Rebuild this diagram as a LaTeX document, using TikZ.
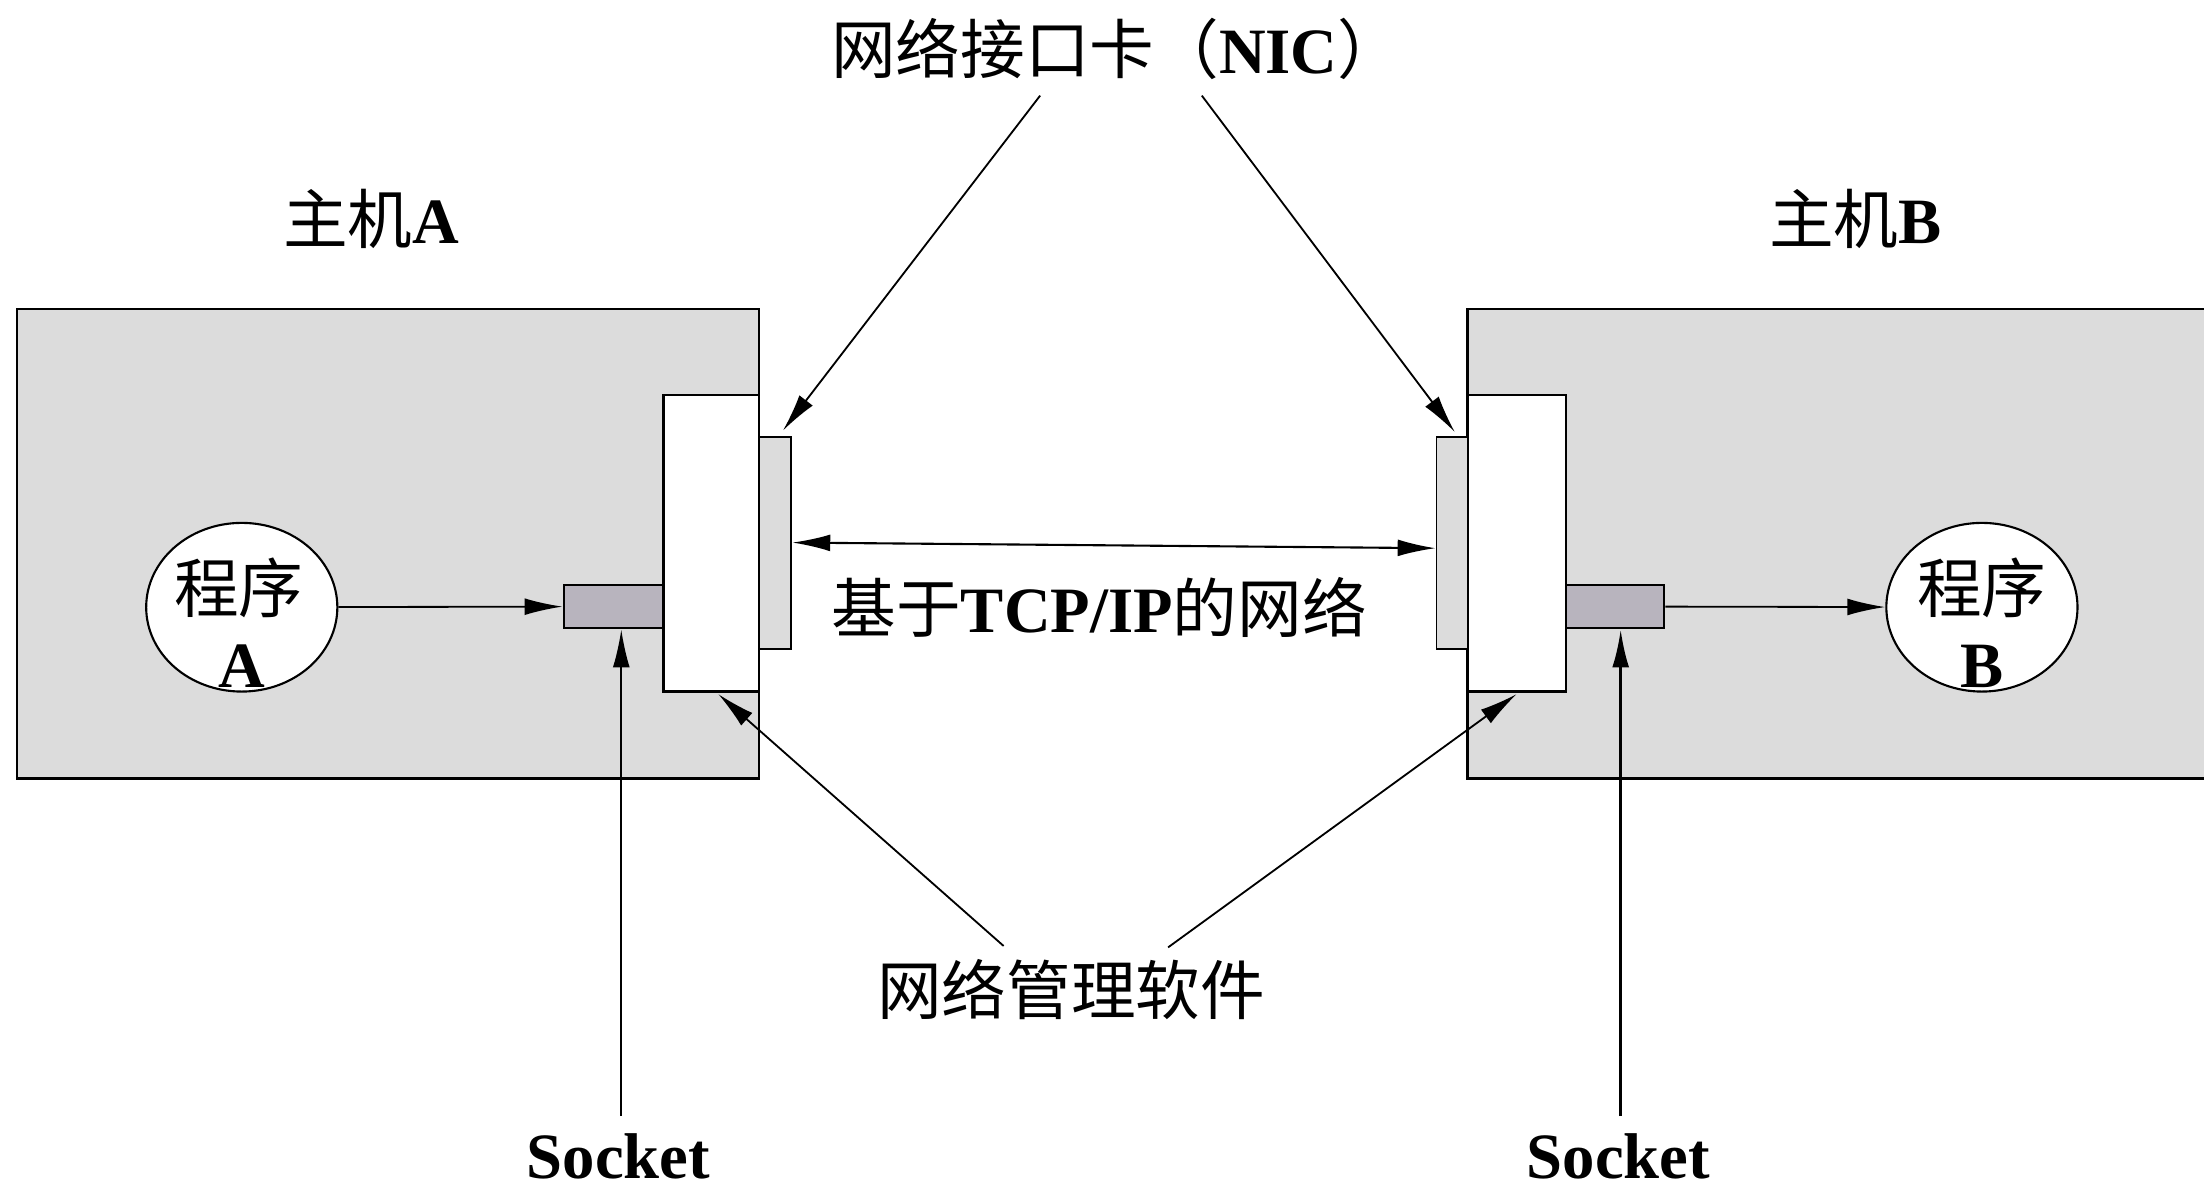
\documentclass[tikz,border=0pt]{standalone}
\usepackage{fontspec}
\setmainfont{Liberation Serif}
\newfontfamily\cjk{Noto Sans CJK SC}
\usetikzlibrary{arrows.meta,shapes.geometric}
\definecolor{hostgray}{HTML}{DCDCDC}
\definecolor{sockfill}{HTML}{B8B4BE}
\begin{document}
\begin{tikzpicture}[x=1pt,y=-1pt,
  hostbox/.style={draw, line width=1.8pt, fill=hostgray, minimum width=#1, minimum height=334pt, inner sep=0pt},
  nicbox/.style={draw, line width=1.6pt, fill=white, minimum width=#1, minimum height=211pt, inner sep=0pt},
  stripbox/.style={draw, line width=1.3pt, fill=hostgray, minimum width=#1, minimum height=151pt, inner sep=0pt},
  sockbox/.style={draw, line width=1.6pt, fill=sockfill, minimum width=#1, minimum height=31pt, inner sep=0pt},
  progell/.style={draw, ellipse, line width=1.5pt, fill=white, minimum width=136pt, minimum height=120pt, inner sep=0pt},
  lbl/.style={font=\fontsize{46pt}{50pt}\selectfont, inner sep=0pt},
  arr/.style={-{Latex[length=27pt,width=12pt]}, line width=1.3pt}
]
\useasboundingbox (0,0) rectangle (1568,850);
\clip (0,0) rectangle (1568,850);

% hosts
\node[hostbox=528pt] (hostA) at (276,387) {};
\node[hostbox=540pt] (hostB) at (1314,387) {};

% NIC parts
\node[nicbox=68pt] (nicA) at (506,386.5) {};
\node[stripbox=23pt] (stripA) at (551.5,386.5) {};
\node[sockbox=71pt] (sockA) at (436.5,431.5) {};

\node[nicbox=70pt] (nicB) at (1079,386.5) {};
\node[stripbox=22pt] (stripB) at (1033,386.5) {};
\node[sockbox=70pt] (sockB) at (1149,431.5) {};

% programs
\node[progell] (progA) at (172,432) {};
\node[progell] (progB) at (1410,432) {};
\node[lbl] (progAt) at (170,418) {\cjk 程序};
\node[lbl] (progAl) at (172,474) {\textbf{A}};
\node[lbl] (progBt) at (1410,418) {\cjk 程序};
\node[lbl] (progBl) at (1410,474) {\textbf{B}};

% labels
\node[lbl] (hostAlbl) at (264,156) {{\cjk 主机}\textbf{A}};
\node[lbl] (hostBlbl) at (1320,156) {{\cjk 主机}\textbf{B}};
\node[lbl] (niclbl) at (794.5,35) {{\cjk 网络接口卡（}\textbf{NIC}{\cjk ）}};
\node[lbl] (netlbl) at (782,432) {{\cjk 基于}\textbf{TCP/IP}{\cjk 的网络}};
\node[lbl] (mgmtlbl) at (762,704) {\cjk 网络管理软件};
\node[lbl] (sockAlbl) at (440,823) {\textbf{Socket}};
\node[lbl] (sockBlbl) at (1151.5,823) {\textbf{Socket}};

% connector start points
\coordinate (nicL) at (740,68);
\coordinate (nicR) at (855,68);
\coordinate (mgL) at (714,673);
\coordinate (mgR) at (831,674);
\coordinate (skA) at (442,794);
\coordinate (skB) at (1153,794);

% arrows
\draw[arr] (progA) -- (sockA);
\draw[arr] (sockB) -- (progB);
\draw[line width=1.5pt, {Latex[length=27pt,width=12pt]}-{Latex[length=27pt,width=12pt]}]
  ([yshift=0.5pt]stripA.east) -- ([yshift=-3.5pt]stripB.west);
\draw[arr] (nicL) -- ([xshift=5.5pt,yshift=4pt]stripA.north);
\draw[arr] (nicR) -- ([xshift=2pt,yshift=3pt]stripB.north);
\draw[arr] (mgL) -- ([xshift=5pt,yshift=-1pt]nicA.south);
\draw[arr] (mgR) -- ([yshift=-1pt]nicB.south);
\draw[arr] (skA) -- (skA |- sockA.south);
\draw[arr, line width=2.2pt] (skB) -- (skB |- sockB.south);
\end{tikzpicture}
\end{document}
